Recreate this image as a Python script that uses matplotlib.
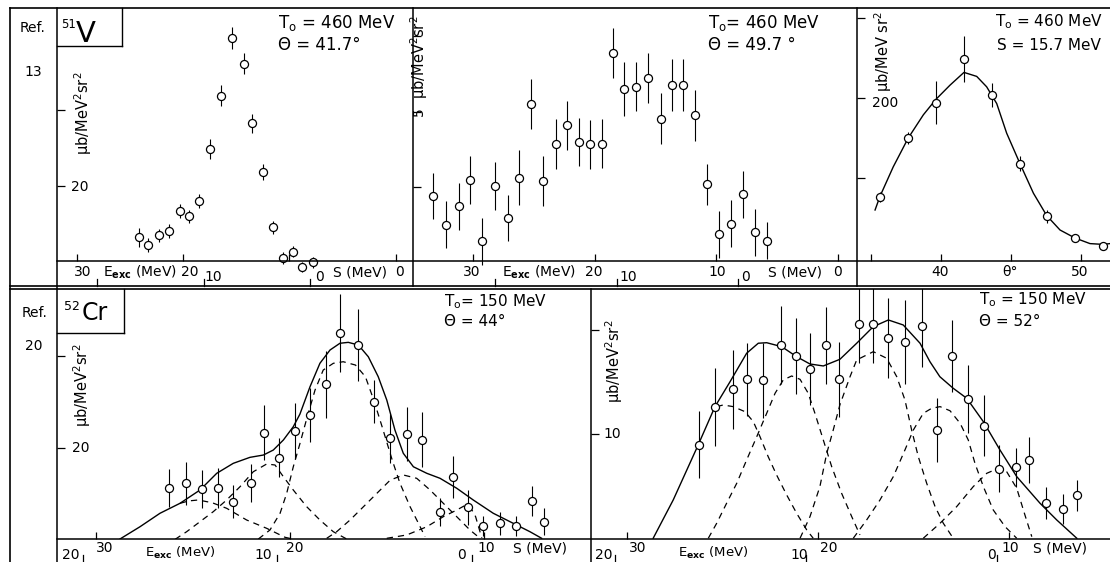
import matplotlib
matplotlib.use('Agg')
import matplotlib.pyplot as plt
from matplotlib.lines import Line2D
from matplotlib.transforms import blended_transform_factory

# --- DATA ---
# 51V, T0 = 460 MeV, theta = 41.7 deg  (x: separation energy S in MeV)
v41_s = [24.14, 23.26, 22.29, 21.35, 20.25, 19.41, 18.47, 17.46, 16.45, 15.39,
         14.29, 13.48, 12.47, 11.53, 10.62, 9.65, 8.83, 7.80]
v41_y = [13.29, 12.28, 13.55, 14.12, 16.71, 16.05, 18.07, 24.91, 31.92, 39.47,
         36.13, 28.29, 21.92, 14.61, 10.53, 11.39, 9.42, 10.0]
v41_err = [1.25, 0.88, 0.88, 0.88, 0.92, 0.88, 0.92, 1.32, 1.38, 1.45,
           1.41, 1.28, 1.05, 0.83, 0.76, 0.70, 0.66, 0.72]

# 51V, T0 = 460 MeV, theta = 49.7 deg
v49_s = [33.29, 32.22, 31.20, 30.25, 29.26, 28.21, 27.17, 26.26, 25.23, 24.26,
         23.22, 22.26, 21.30, 20.37, 19.43, 18.53, 17.57, 16.58, 15.65, 14.55,
         13.65, 12.74, 11.73, 10.77, 9.78, 8.82, 7.80, 6.84, 5.83]
v49_y = [3.89, 3.51, 3.75, 4.10, 3.29, 4.02, 3.60, 4.13, 5.10, 4.08,
         4.57, 4.82, 4.60, 4.57, 4.58, 5.77, 5.30, 5.33, 5.45, 4.91,
         5.35, 5.35, 4.95, 4.04, 3.38, 3.52, 3.91, 3.41, 3.30]
v49_err = [0.30, 0.31, 0.31, 0.32, 0.31, 0.32, 0.30, 0.36, 0.33, 0.33,
           0.33, 0.32, 0.32, 0.32, 0.32, 0.33, 0.36, 0.32, 0.33, 0.34,
           0.34, 0.34, 0.34, 0.27, 0.31, 0.31, 0.31, 0.31, 0.24]

# 51V angular distribution at S = 15.7 MeV
ang_theta = [35.64, 37.64, 39.64, 41.64, 43.64, 45.64, 47.57, 49.57, 51.57]
ang_y = [76, 150, 194, 249, 204, 118, 52, 25, 15]
ang_err = [6, 8, 27, 29, 15, 9, 8, 5, 4]
ang_fit_theta = [35.29, 35.64, 36.59, 37.66, 38.74, 39.62, 40.64, 41.64, 42.55, 43.26,
                 43.98, 44.69, 45.64, 46.60, 47.55, 48.5, 49.57, 50.64, 51.59, 52.07]
ang_fit_y = [60, 77, 114, 150, 179, 198, 216, 232, 227, 214,
             193, 156, 118, 81, 53, 35, 25, 18, 17, 18]

# 52Cr, T0 = 150 MeV, theta = 44 deg
cr44_s = [26.24, 25.35, 24.51, 23.70, 22.93, 22.00, 21.32, 20.59, 19.76, 18.95,
          18.16, 17.42, 16.51, 15.66, 14.87, 13.97, 13.20, 12.30, 11.63, 10.85,
          10.07, 9.20, 8.35, 7.54, 6.92]
cr44_y = [15.67, 16.21, 15.56, 15.67, 14.21, 16.21, 21.69, 18.98, 21.87, 23.61,
          26.93, 32.46, 31.19, 25.05, 21.08, 21.55, 20.90, 13.13, 16.92, 13.61,
          11.58, 11.87, 11.58, 14.29, 12.05]
cr44_err = [2.08, 2.31, 2.04, 2.17, 1.77, 2.08, 2.98, 2.11, 3.07, 2.89,
            3.65, 4.24, 3.88, 2.35, 2.62, 2.89, 2.98, 1.50, 2.26, 1.90,
            1.08, 1.23, 1.05, 1.63, 1.48]
cr44_fit_s = [28.75, 27.72, 26.69, 25.66, 24.63, 23.77, 22.92, 22.06, 21.37, 20.86,
              20.34, 19.83, 19.49, 18.97, 18.46, 17.94, 17.43, 17.00, 16.48, 15.97,
              15.46, 15.02, 14.60, 14.17, 13.65, 12.96, 12.28, 11.42, 10.57, 9.54,
              8.51, 7.65, 7.05]
cr44_fit_y = [10.17, 11.50, 12.96, 14.04, 15.48, 17.29, 18.37, 19.02, 19.27, 19.81,
              20.90, 22.34, 23.70, 26.67, 29.21, 30.65, 31.38, 31.48, 31.19, 29.92,
              27.76, 25.23, 21.98, 19.46, 18.00, 17.29, 16.75, 15.67, 14.40, 12.96,
              11.87, 10.96, 10.25]
cr44_parts = [
    ([25.66, 25.2, 24.72, 24.0, 23.26, 22.23, 21.20, 20.26, 19.8],
     [14.04, 14.3, 14.40, 14.1, 13.50, 12.23, 11.33, 10.36, 10.14]),
    ([25.91, 25.32, 24.63, 23.95, 23.26, 22.57, 21.89, 21.20, 20.77, 20.34,
      19.83, 19.14, 18.46, 17.77, 17.08],
     [10.14, 10.96, 12.05, 13.13, 14.40, 15.84, 17.46, 18.30, 18.19, 16.92,
      15.48, 13.67, 12.23, 10.96, 10.17]),
    ([21.63, 21.03, 20.51, 20.17, 19.83, 19.49, 19.14, 18.71, 18.29, 17.77,
      17.26, 16.63, 16.12, 15.69, 15.26, 14.74, 14.34, 13.82, 13.39, 13.05],
     [10.17, 11.15, 12.96, 15.12, 18.0, 20.5, 23.2, 26.32, 28.48, 29.21,
      29.38, 29.02, 27.76, 25.23, 22.34, 18.73, 16.21, 13.67, 11.87, 10.42]),
    ([18.11, 17.60, 16.91, 16.22, 15.53, 14.84, 14.17, 13.48, 12.79, 12.11,
      11.42, 10.74, 10.22],
     [10.25, 10.96, 12.23, 13.67, 15.12, 16.56, 17.11, 16.75, 15.48, 14.04,
      12.59, 11.15, 10.25]),
    ([15.02, 13.99, 12.96, 12.11, 11.42, 11.0, 10.74, 10.45, 10.13],
     [10.25, 10.61, 11.50, 12.59, 13.31, 13.8, 13.7, 12.6, 10.3]),
]

# 52Cr, T0 = 150 MeV, theta = 52 deg
cr52_s = [26.26, 25.42, 24.45, 23.72, 22.87, 21.93, 21.13, 20.41, 19.59, 18.88,
          17.86, 17.09, 16.35, 15.44, 14.56, 13.78, 12.96, 12.15, 11.28, 10.50,
          9.60, 8.96, 8.07, 7.18, 6.40]
cr52_y = [8.97, 12.59, 14.29, 15.24, 15.15, 18.53, 17.48, 16.20, 18.50, 15.24,
          20.52, 20.58, 19.18, 18.82, 20.38, 10.38, 17.48, 13.36, 10.80, 6.67,
          6.81, 7.51, 3.36, 2.84, 4.12]
cr52_err = [3.24, 3.74, 3.79, 3.52, 3.60, 3.76, 3.64, 3.45, 3.71, 3.60,
            3.67, 3.79, 3.84, 4.07, 4.00, 3.08, 3.44, 3.26, 2.96, 2.24,
            1.87, 2.24, 1.56, 1.44, 1.47]
cr52_fit_s = [28.64, 27.59, 26.28, 25.40, 24.61, 23.74, 23.13, 22.69, 21.90, 21.12,
              20.42, 19.72, 18.85, 17.97, 17.10, 16.31, 15.53, 14.65, 14.13, 13.61,
              12.91, 12.20, 11.33, 10.46, 9.58, 8.36, 7.48, 6.43]
cr52_fit_y = [0, 3.67, 8.95, 12.62, 15.01, 17.74, 18.70, 18.75, 18.37, 17.41,
              16.71, 16.52, 17.16, 18.70, 20.29, 20.93, 20.45, 18.70, 16.93, 15.49,
              14.38, 13.42, 11.18, 8.47, 5.91, 3.36, 1.75, 0]
cr52_parts = [
    ([25.31, 24.97, 24.44, 23.83, 23.39, 23.04, 22.61, 22.17, 21.64, 21.12, 20.59, 20.25],
     [12.62, 12.78, 12.62, 12.14, 11.18, 9.74, 7.82, 6.07, 4.15, 2.40, 0.80, 0]),
    ([25.75, 25.31, 24.79, 24.26, 23.74, 23.21, 22.69, 22.25, 21.82, 21.38,
      20.94, 20.51, 20.16, 19.72, 19.28, 18.76, 18.23, 17.80],
     [0, 1.44, 3.36, 5.27, 7.51, 9.74, 11.98, 13.90, 15.18, 15.56,
      15.24, 13.90, 11.98, 9.42, 6.86, 4.31, 2.07, 0.32]),
    ([20.94, 20.42, 19.90, 19.54, 19.20, 18.85, 18.32, 17.97, 17.10, 16.40,
      15.87, 15.44, 15.09, 14.74, 14.30, 13.86, 13.43, 12.91],
     [0, 2.07, 4.95, 8.15, 10.38, 12.8, 15.49, 17.1, 17.89, 17.26,
      15.49, 13.26, 10.38, 7.82, 5.27, 3.03, 1.44, 0]),
    ([18.15, 17.45, 16.75, 16.05, 15.44, 15.00, 14.48, 14.04, 13.60, 13.08,
      12.55, 12.12, 11.77, 11.33, 10.81, 10.19, 9.58],
     [0, 1.75, 3.67, 5.91, 8.47, 10.38, 11.98, 12.46, 12.62, 12.23,
      11.03, 9.42, 7.19, 4.95, 2.71, 1.11, 0]),
    ([14.48, 13.60, 12.73, 11.86, 11.15, 10.54, 10.11, 9.58, 9.15, 8.79],
     [0, 1.44, 3.03, 4.95, 6.23, 6.71, 6.39, 4.79, 2.23, 0.15]),
]

# --- FIGURE (laid out in pixels of the 1110x562 scan) ---
W, H = 1110, 562
fig = plt.figure(figsize=(W / 100, H / 100), dpi=100)
fig.patch.set_facecolor('white')


def fy(y):
    return 1 - y / H


def panel(x0, y0, x1, y1, xlim, ylim, xticks, yticks):
    ax = fig.add_axes([x0 / W, fy(y1), (x1 - x0) / W, (y1 - y0) / H])
    ax.set_xlim(*xlim)
    ax.set_ylim(*ylim)
    ax.set_xticks(xticks)
    ax.set_yticks(yticks)
    for sp in ax.spines.values():
        sp.set_visible(False)
    ax.patch.set_visible(False)
    ax.tick_params(axis='x', direction='in', length=5, width=0.9,
                   labelbottom=False, top=False)
    ax.tick_params(axis='y', direction='in', length=5.5, width=0.9,
                   labelleft=False, right=False)
    return ax


def line(x0, y0, x1, y1, lw=1.0):
    fig.add_artist(Line2D([x0 / W, x1 / W], [fy(y0), fy(y1)],
                          transform=fig.transFigure, color='k', lw=lw))


def txt(x, y, s, size=10, ha='center', va='center', **kw):
    fig.text(x / W, fy(y), s, fontsize=size, ha=ha, va=va, **kw)


def points(ax, x, y, err, clip=True):
    c = ax.errorbar(x, y, yerr=err, fmt='o', ms=5.8, mfc='white', mec='black',
                    mew=0.9, ecolor='black', elinewidth=0.8, capsize=0, zorder=3)
    if not clip:
        for a in c.get_children():
            a.set_clip_on(False)


def eticks(ax, offset, y_bot, vals=(20, 10, 0)):
    tr = blended_transform_factory(ax.transData, fig.transFigure)
    for e in vals:
        ax.plot([e + offset] * 2, [fy(y_bot), fy(y_bot - 7)], transform=tr,
                color='k', lw=0.9, clip_on=False)


ylab = 'μb/MeV$^2$sr$^2$'
eexc = r'E$_{\mathbf{exc}}$ (MeV)'

# frame
line(10, 8, 1110, 8, 1.2)
line(57, 261, 1110, 261, 1.1)
line(10, 286, 1110, 286, 1.2)
line(10, 289, 1110, 289, 1.2)
line(57, 539.3, 1110, 539.3, 1.1)
line(10, 8, 10, 562, 1.2)
line(57, 8, 57, 562, 1.1)
line(412.5, 8, 412.5, 286, 1.1)
line(857, 8, 857, 286, 1.1)
line(591, 289, 591, 562, 1.1)
line(122, 8, 122, 46)
line(57, 46, 122, 46)
line(124, 289, 124, 333)
line(57, 333, 124, 333)

# left column
txt(33, 28, 'Ref.', 10)
txt(33, 72, '13', 10)
txt(35, 313, 'Ref.', 10)
txt(34, 346, '20', 10)
txt(61, 24, '51', 8.5, ha='left')
txt(76, 34, 'V', 21, ha='left')
txt(64, 306, '52', 9, ha='left')
txt(82, 313, 'Cr', 17, ha='left')

# panel 1: 51V 41.7 deg
ax1 = panel(57, 8, 412.5, 261, (31.85, -1.59), (10.17, 43.46), [30, 20, 10, 0], [20, 30])
points(ax1, v41_s, v41_y, v41_err, clip=False)
eticks(ax1, 8.05, 286)
txt(278, 23, 'T$_{\\rm o}$ = 460 MeV', 12, ha='left')
txt(278, 45, 'Θ = 41.7°', 12, ha='left')
txt(83, 113, ylab, 10.5, rotation=90)
txt(80, 187, '20', 10)
txt(83, 272, '30')
txt(103, 272, eexc, ha='left')
txt(190, 272, '20')
txt(213, 277, '10')
txt(319, 277, '0')
txt(333, 272, 'S (MeV)', ha='left')
txt(399, 272, '0')

# panel 2: 51V 49.7 deg
ax2 = panel(412.5, 8, 857, 261, (35.0, -1.58), (3.03, 6.368), [30, 20, 10, 0], [4, 5, 6])
points(ax2, v49_s, v49_y, v49_err, clip=False)
eticks(ax2, 8.19, 286)
txt(708, 23, 'T$_{\\rm o}$= 460 MeV', 12, ha='left')
txt(708, 45, 'Θ = 49.7 °', 12, ha='left')
txt(419, 57, ylab, 10.5, rotation=90)
txt(419, 112, '5', 10, rotation=90)
txt(472, 272, '30')
txt(502, 272, eexc, ha='left')
txt(594, 272, '20')
txt(628, 277, '10')
txt(717, 272, '10')
txt(746, 277, '0')
txt(768, 272, 'S (MeV)', ha='left')
txt(838, 272, '0')

# panel 3: angular distribution
ax3 = panel(857, 8, 1110, 261, (34.0, 52.07), (-3.75, 312.5), [35, 40, 45, 50], [100, 200, 300])
ax3.plot(ang_fit_theta, ang_fit_y, color='k', lw=1.0)
points(ax3, ang_theta, ang_y, ang_err)
txt(995, 22, 'T$_{\\rm o}$ = 460 MeV', 11, ha='left')
txt(997, 45, 'S = 15.7 MeV', 11, ha='left')
txt(883, 52, 'μb/MeV sr$^2$', 10.5, rotation=90)
txt(885, 103, '200', 10)
txt(940, 272, '40')
txt(1010, 272, 'θ°')
txt(1080, 272, '50')

# panel 4: 52Cr 44 deg
ax4 = panel(57, 289, 591, 539.3, (31.99, 4.51), (10.14, 37.26), [30, 20, 10], [20, 30])
for xs, ys in cr44_parts:
    ax4.plot(xs, ys, color='k', lw=0.9, ls=(0, (5, 4)))
ax4.plot(cr44_fit_s, cr44_fit_y, color='k', lw=1.0)
points(ax4, cr44_s, cr44_y, cr44_err)
eticks(ax4, 10.65, 562)
txt(444, 302, 'T$_{\\rm o}$= 150 MeV', 11, ha='left')
txt(444, 322, 'Θ = 44°', 11, ha='left')
txt(82, 385, ylab, 10.5, rotation=90)
txt(81, 448, '20', 10)
txt(71, 555, '20')
txt(105, 548, '30')
txt(145, 553, eexc, 9.5, ha='left')
txt(263, 555, '10')
txt(295, 548, '20')
txt(461, 555, '0')
txt(486, 548, '10')
txt(513, 548, 'S (MeV)', ha='left')

# panel 5: 52Cr 52 deg
ax5 = panel(591, 289, 1110, 539.3, (31.90, 4.69), (-0.1, 23.9), [30, 20, 10], [10, 20])
for xs, ys in cr52_parts:
    ax5.plot(xs, ys, color='k', lw=0.9, ls=(0, (5, 4)))
ax5.plot(cr52_fit_s, cr52_fit_y, color='k', lw=1.0)
points(ax5, cr52_s, cr52_y, cr52_err)
eticks(ax5, 10.62, 562)
txt(979, 300, 'T$_{\\rm o}$ = 150 MeV', 11, ha='left')
txt(979, 322, 'Θ = 52°', 11, ha='left')
txt(614, 361, ylab, 10.5, rotation=90)
txt(612, 434, '10', 10)
txt(604, 555, '20')
txt(638, 548, '30')
txt(678, 553, eexc, 9.5, ha='left')
txt(799, 555, '10')
txt(829, 548, '20')
txt(992, 555, '0')
txt(1010, 548, '10')
txt(1033, 548, 'S (MeV)', ha='left')

fig.savefig('out.png', dpi=100)
